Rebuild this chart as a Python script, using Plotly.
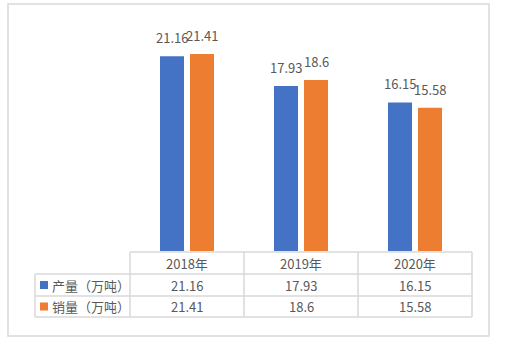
import plotly.graph_objects as go

# ---- data ----
years = ["2018年", "2019年", "2020年"]
series_names = ["产量（万吨）", "销量（万吨）"]
production = [21.16, 17.93, 16.15]
sales = [21.41, 18.6, 15.58]
production_labels = ["21.16", "17.93", "16.15"]
sales_labels = ["21.41", "18.6", "15.58"]
colors = ["#4472C4", "#ED7D31"]

W, H = 506, 343
L, R, T, B = 130, 34, 20, 92
PW = W - L - R
PH = H - T - B
YMAX = PH / 9.2

def px_x(px):
    return (px - L) / PW

def px_y(py):
    return (H - B - py) / PH

grid = "#d9d9d9"
txt = "#595959"
FONT = "Noto Sans CJK SC"

fig = go.Figure()
bw = 24 / 114
offsets = [-27 / 114, 3 / 114]
series = [production, sales]
labels = [production_labels, sales_labels]
for i in range(2):
    fig.add_trace(go.Bar(
        x=years, y=series[i], name=series_names[i],
        marker=dict(color=colors[i], line=dict(width=0)),
        width=bw, offset=offsets[i], showlegend=False, hoverinfo="skip",
    ))

annotations = []
shifts = [-15, 15]
for i in range(2):
    for j, yr in enumerate(years):
        annotations.append(dict(
            x=yr, y=series[i][j], xref="x", yref="y", text=labels[i][j],
            showarrow=False, xshift=shifts[i], yshift=7, yanchor="bottom", xanchor="center",
            font=dict(size=13, color=txt, family=FONT),
        ))

# table rows (pixel positions of the grid)
row_lines = [252, 274, 296, 317]
col_lines = [130, 244, 358, 472]
left_col = 35
shapes = []
line = dict(color=grid, width=1.5)
shapes.append(dict(type="line", xref="paper", yref="paper", x0=px_x(130), x1=px_x(472),
                   y0=px_y(row_lines[0]), y1=px_y(row_lines[0]), line=line))
for ry in row_lines[1:]:
    shapes.append(dict(type="line", xref="paper", yref="paper", x0=px_x(left_col), x1=px_x(472),
                       y0=px_y(ry), y1=px_y(ry), line=line))
for cx in col_lines:
    shapes.append(dict(type="line", xref="paper", yref="paper", x0=px_x(cx), x1=px_x(cx),
                       y0=px_y(row_lines[0]), y1=px_y(row_lines[-1]), line=line))
shapes.append(dict(type="line", xref="paper", yref="paper", x0=px_x(left_col), x1=px_x(left_col),
                   y0=px_y(row_lines[1]), y1=px_y(row_lines[-1]), line=line))
# outer chart border
shapes.append(dict(type="rect", xref="paper", yref="paper", x0=px_x(8), x1=px_x(489),
                   y0=px_y(336), y1=px_y(4), line=line, fillcolor="rgba(0,0,0,0)"))

row_centers = [(row_lines[k] + row_lines[k + 1]) / 2 for k in range(3)]
for j, yr in enumerate(years):
    annotations.append(dict(x=yr, y=px_y(row_centers[0]), xref="x", yref="paper", text=yr,
                            showarrow=False, xanchor="center", yanchor="middle",
                            font=dict(size=13, color=txt, family=FONT)))
    for i in range(2):
        annotations.append(dict(x=yr, y=px_y(row_centers[i + 1]), xref="x", yref="paper",
                                text=labels[i][j], showarrow=False,
                                xanchor="center", yanchor="middle",
                                font=dict(size=13, color=txt, family=FONT)))
for i in range(2):
    cy = row_centers[i + 1]
    shapes.append(dict(type="rect", xref="paper", yref="paper", x0=px_x(40), x1=px_x(48),
                       y0=px_y(cy + 4), y1=px_y(cy - 4), fillcolor=colors[i], line=dict(width=0)))
    annotations.append(dict(x=px_x(50), y=px_y(cy), xref="paper", yref="paper",
                            text=series_names[i], showarrow=False, xanchor="left", yanchor="middle",
                            font=dict(size=13, color=txt, family=FONT)))

fig.update_layout(
    width=W, height=H, margin=dict(l=L, r=R, t=T, b=B),
    paper_bgcolor="white", plot_bgcolor="white",
    xaxis=dict(visible=False, type="category", range=[-0.5, 2.5]),
    yaxis=dict(visible=False, range=[0, YMAX]),
    barmode="overlay",
    shapes=shapes, annotations=annotations,
    font=dict(family=FONT),
)
fig.write_html("out.html")
